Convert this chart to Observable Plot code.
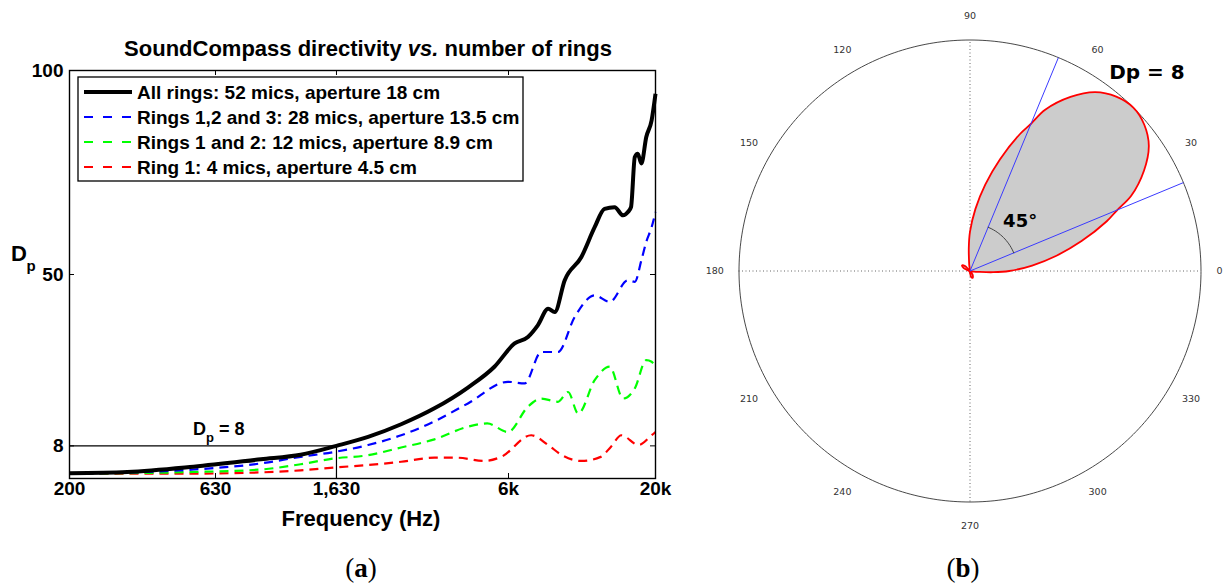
<!DOCTYPE html>
<html><head><meta charset="utf-8">
<script src="https://cdn.jsdelivr.net/npm/d3@7"></script>
<script src="https://cdn.jsdelivr.net/npm/@observablehq/plot@0.6"></script>
<style>
html,body{margin:0;padding:0;background:#fff;width:1225px;height:585px;overflow:hidden;}
#wrap{position:relative;width:1225px;height:585px;}
#left{position:absolute;left:0;top:0;width:680px;height:540px;}
#right{position:absolute;left:700px;top:0;width:525px;height:545px;}
#overlay{position:absolute;left:0;top:0;pointer-events:none;}
</style></head>
<body><div id="wrap"><div id="left"></div><div id="right"></div><svg id="overlay" width="1225" height="585"></svg></div>
<script>
// ---------- Panel (a) data ----------
const xTickValues = [200, 630, 1630, 6300, 20000];
const xTickLabels = ["200", "630", "1,630", "6k", "20k"];
const yTickValues = [8, 50, 100];
const refDp = 8;
const refFreq = 1630;

const seriesNames = [
  "All rings: 52 mics, aperture 18 cm",
  "Rings 1,2 and 3: 28 mics, aperture 13.5 cm",
  "Rings 1 and 2: 12 mics, aperture 8.9 cm",
  "Ring 1: 4 mics, aperture 4.5 cm"
];
const seriesColors = ["#000000", "#0000ff", "#00ff00", "#ff0000"];

const blackFreq = [200, 315, 530, 900, 1230, 1630, 2090, 2710, 3520, 4580, 5640, 6610, 7340, 7940, 8600, 9060, 9800, 11170, 12400, 13400, 14500, 15500, 16100, 16500, 17000, 17400, 17900, 18600, 19400, 20000];
const blackDp   = [1.3, 1.6, 2.9, 4.7, 5.8, 8.0, 10.2, 13.3, 17.2, 22.3, 27.4, 33.1, 34.7, 37.6, 41.6, 40.8, 48.6, 54.3, 61.6, 66.1, 66.5, 64.5, 65.3, 66.5, 78.8, 79.6, 77.2, 83.7, 87.8, 94.3];

const blueFreq = [200, 530, 900, 1230, 1600, 2090, 2710, 3520, 4580, 6270, 7150, 8150, 9290, 10600, 12400, 13960, 16100, 17000, 17900, 18600, 19400, 20000];
const blueDp   = [1.2, 2.2, 3.7, 5.3, 6.5, 8.2, 10.6, 14.0, 18.4, 23.7, 23.3, 31.0, 31.0, 39.6, 44.9, 43.3, 48.6, 48.2, 53.5, 58.0, 61.6, 65.3];

const greenFreq = [200, 530, 900, 1230, 1600, 2090, 2710, 3520, 4580, 5330, 6270, 7340, 8150, 9290, 10060, 10900, 12400, 13960, 15500, 17000, 18600, 19400, 20000];
const greenDp   = [1.2, 1.6, 2.2, 3.5, 4.9, 5.7, 7.6, 9.6, 12.7, 13.5, 11.4, 17.6, 19.6, 18.8, 21.2, 15.9, 24.1, 27.4, 19.6, 22.1, 29.0, 28.6, 27.5];

const redFreq = [200, 530, 900, 1230, 1600, 2090, 2710, 3520, 4200, 5200, 5950, 7530, 8600, 9600, 11170, 13000, 14100, 15300, 17500, 19400, 20000];
const redDp   = [1.2, 1.2, 1.5, 2.0, 2.7, 3.3, 4.1, 5.1, 5.1, 4.3, 5.3, 10.6, 8.2, 5.7, 4.3, 5.3, 7.8, 10.6, 8.2, 10.6, 11.4];

// ---------- Panel (b) data ----------
const polarTickAngles = [0, 30, 60, 90, 120, 150, 180, 210, 240, 270, 300, 330];
const lobeAngle = [-7, -3, 0, 5, 10, 15, 20, 22.5, 25, 30, 35, 40, 45, 50, 55, 60, 65, 67.5, 70, 75, 80, 85, 90, 93, 97, 115, 135, 145, 155, 175, 260, 280, 291, 305, 330];
const lobeR     = [0.03, 0.10, 0.17, 0.27, 0.38, 0.50, 0.63, 0.69, 0.77, 0.87, 0.945, 0.985, 1.0, 0.985, 0.945, 0.87, 0.77, 0.69, 0.63, 0.50, 0.38, 0.27, 0.17, 0.10, 0.03, 0.005, 0.03, 0.042, 0.03, 0.005, 0.005, 0.025, 0.032, 0.02, 0.005];
const beamEdges = [22.5, 67.5];
const beamCenter = 45;
const beamWidthLabel = "45°";
const dpLabel = "Dp = 8";

// ---------- Panel (a) ----------
const W = 680, H = 540, mL = 69, mR = 25, mT = 70, mB = 62;
const innerW = W - mL - mR, innerH = H - mT - mB;
const series = [
  {f: blackFreq, d: blackDp},
  {f: blueFreq, d: blueDp},
  {f: greenFreq, d: greenDp},
  {f: redFreq, d: redDp}
].map((s, i) => s.f.map((f, j) => ({f, d: s.d[j], k: i})));

const lineMarks = series.map((rows, i) => Plot.line(rows, {
  x: "f", y: "d", stroke: seriesColors[i],
  strokeWidth: i === 0 ? 4 : 2.2,
  strokeDasharray: i === 0 ? null : "9,6",
  strokeLinecap: "butt",
  curve: "monotone-x"
}));

const left = Plot.plot({
  width: W, height: H,
  marginLeft: mL, marginRight: mR, marginTop: mT, marginBottom: mB,
  style: {fontFamily: "'Liberation Sans', Arial, sans-serif", background: "transparent", overflow: "visible"},
  x: {type: "log", domain: [200, 20000], axis: null},
  y: {type: "linear", domain: [0, 100]},
  marks: [
    Plot.ruleY([refDp], {x1: 200, x2: refFreq, stroke: "black", strokeWidth: 1.2}),
    Plot.ruleX([refFreq], {y1: 0, y2: refDp, stroke: "black", strokeWidth: 1.2}),
    ...lineMarks.slice().reverse(),
    Plot.tickX(xTickValues, {x: d => d, insetTop: innerH - 5, stroke: "black"}),
    Plot.tickX(xTickValues, {x: d => d, insetBottom: innerH - 5, stroke: "black"}),
    Plot.tickY(yTickValues, {y: d => d, insetRight: innerW - 5, stroke: "black"}),
    Plot.tickY(yTickValues, {y: d => d, insetLeft: innerW - 5, stroke: "black"}),
    Plot.frame({stroke: "black", strokeWidth: 1.4}),
    Plot.text(xTickValues, {x: d => d, text: (d, i) => xTickLabels[i], frameAnchor: "bottom", dy: 16,
      fontSize: 19, fontWeight: "bold", fill: "black"}),
    Plot.axisY(yTickValues, {anchor: "left", tickSize: 0, tickPadding: 6, label: null,
      fontSize: 19, fontWeight: "bold", fill: "black"})
  ]
});
document.getElementById("left").appendChild(left);

// ---------- Panel (b) ----------
const rad = a => a * Math.PI / 180;
const circlePts = d3.range(0, 360, 1).map(a => ({x: Math.cos(rad(a)), y: Math.sin(rad(a))}));
const lobePts = lobeAngle.map((a, i) => ({x: lobeR[i] * Math.cos(rad(a)), y: lobeR[i] * Math.sin(rad(a))}));
const arcR = 0.205;
const arcPts = d3.range(beamEdges[0], beamEdges[1] + 0.01, 2.5).map(a => ({x: arcR * Math.cos(rad(a)), y: arcR * Math.sin(rad(a))}));
const labR = a => (a === 0 ? 1.08 : 1.105);

const right = Plot.plot({
  width: 525, height: 545, margin: 0,
  style: {fontFamily: "'DejaVu Sans', sans-serif", background: "transparent", overflow: "visible"},
  x: {domain: [-1, 1], range: [38.5, 500.5], axis: null},
  y: {domain: [-1, 1], range: [501.5, 39.5], axis: null},
  marks: [
    Plot.ruleX([0], {y1: -1, y2: 1, stroke: "#666", strokeWidth: 1, strokeDasharray: "1,2.5"}),
    Plot.ruleY([0], {x1: -1, x2: 1, stroke: "#666", strokeWidth: 1, strokeDasharray: "1,2.5"}),
    Plot.line(circlePts, {x: "x", y: "y", stroke: "#333", strokeWidth: 0.9, curve: "linear-closed"}),
    Plot.line(lobePts, {x: "x", y: "y", fill: "#cccccc", stroke: "#ff0000", strokeWidth: 1.8, curve: "catmull-rom-closed"}),
    Plot.link(beamEdges, {x1: 0, y1: 0, x2: a => Math.cos(rad(a)), y2: a => Math.sin(rad(a)), stroke: "#3a3aff", strokeWidth: 1}),
    Plot.line(arcPts, {x: "x", y: "y", stroke: "#444", strokeWidth: 1}),
    Plot.text([beamCenter], {x: a => 0.307 * Math.cos(rad(a)), y: a => 0.307 * Math.sin(rad(a)), text: () => beamWidthLabel,
      fontSize: 18, fontWeight: "bold", fill: "black"}),
    Plot.text(polarTickAngles, {x: a => labR(a) * Math.cos(rad(a)), y: a => labR(a) * Math.sin(rad(a)), text: a => String(a),
      fontSize: 9.5, fill: "#333"})
  ]
});
document.getElementById("right").appendChild(right);

// ---------- Overlay texts (title, labels, legend, captions) ----------
const NS = "http://www.w3.org/2000/svg";
const ov = document.getElementById("overlay");
function el(tag, attrs, parent = ov) {
  const e = document.createElementNS(NS, tag);
  for (const k in attrs) e.setAttribute(k, attrs[k]);
  parent.appendChild(e);
  return e;
}
function txt(str, attrs, parent = ov) { const t = el("text", attrs, parent); t.textContent = str; return t; }
const sans = "'Liberation Sans', Arial, sans-serif";
const serif = "'Liberation Serif', 'Times New Roman', serif";

// Title
const title = el("text", {x: 368, y: 56, "text-anchor": "middle", "font-family": sans, "font-size": 22, "font-weight": "bold"});
const t1 = el("tspan", {}, title); t1.textContent = "SoundCompass directivity ";
const t2 = el("tspan", {"font-style": "italic"}, title); t2.textContent = "vs.";
const t3 = el("tspan", {}, title); t3.textContent = " number of rings";

// Y label D_p
txt("D", {x: 11, y: 261, "font-family": sans, "font-size": 22, "font-weight": "bold"});
txt("p", {x: 26.5, y: 271, "font-family": sans, "font-size": 15, "font-weight": "bold"});

// X label
txt("Frequency (Hz)", {x: 361, y: 526, "text-anchor": "middle", "font-family": sans, "font-size": 22, "font-weight": "bold"});

// D_p = 8 annotation
const ann = el("text", {x: 193, y: 435, "font-family": sans, "font-size": 18, "font-weight": "bold"});
const a1 = el("tspan", {}, ann); a1.textContent = "D";
const a2 = el("tspan", {dy: 7, "font-size": 13}, ann); a2.textContent = "p";
const a3 = el("tspan", {dy: -7}, ann); a3.textContent = " = " + refDp;

// Legend
el("rect", {x: 78, y: 77, width: 445, height: 104, fill: "white", stroke: "black", "stroke-width": 1.3});
seriesNames.forEach((name, i) => {
  const cy = 92 + i * 25;
  el("line", {x1: 84, x2: 132, y1: cy, y2: cy, stroke: seriesColors[i], "stroke-width": i === 0 ? 4 : 2,
    "stroke-dasharray": i === 0 ? "none" : "9,10"});
  txt(name, {x: 137, y: cy + 6.5, "font-family": sans, "font-size": 19, "font-weight": "bold"});
});

// Dp = 8 for polar
txt(dpLabel, {x: 1147, y: 79, "text-anchor": "middle", "font-family": "'DejaVu Sans', sans-serif", "font-size": 20, "font-weight": "bold"});

// Captions
function caption(letter, cx) {
  const c = el("text", {x: cx, y: 577, "text-anchor": "middle", "font-family": serif, "font-size": 27});
  const p1 = el("tspan", {}, c); p1.textContent = "(";
  const p2 = el("tspan", {"font-weight": "bold"}, c); p2.textContent = letter;
  const p3 = el("tspan", {}, c); p3.textContent = ")";
}
caption("a", 361);
caption("b", 963);
</script>
</body></html>
